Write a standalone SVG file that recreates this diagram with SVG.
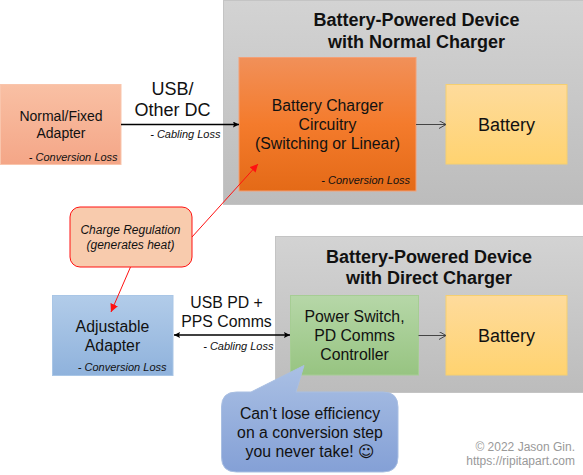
<svg xmlns="http://www.w3.org/2000/svg" width="583" height="475" viewBox="0 0 583 475">
<style>
text{font-family:"Liberation Sans",Arial,sans-serif;fill:#111;text-anchor:middle}
.t{font-size:18px;font-weight:bold}
.n{font-size:14px}
.m{font-size:15.800px}
.b{font-size:18px}
.l{font-size:11px;font-style:italic;text-anchor:end}
.r{font-size:12px;font-style:italic}
.f{font-size:12px;fill:#999;text-anchor:end}
.c{fill:none}
</style>
<defs>
<linearGradient id="gGray" x1="0" y1="0" x2="0" y2="1"><stop offset="0" stop-color="#d3d3d3"/><stop offset="1" stop-color="#bcbcbc"/></linearGradient>
<linearGradient id="gPeach" x1="0" y1="0" x2="0" y2="1"><stop offset="0" stop-color="#f9c0a4"/><stop offset="1" stop-color="#f4a687"/></linearGradient>
<linearGradient id="gOrange" x1="0" y1="0" x2="0" y2="1"><stop offset="0" stop-color="#f19059"/><stop offset="0.5" stop-color="#f47b2c"/><stop offset="1" stop-color="#e46a17"/></linearGradient>
<linearGradient id="gYellow" x1="0" y1="0" x2="0" y2="1"><stop offset="0" stop-color="#fedb9c"/><stop offset="1" stop-color="#ffd370"/></linearGradient>
<linearGradient id="gBlue" x1="0" y1="0" x2="0" y2="1"><stop offset="0" stop-color="#b2cce9"/><stop offset="1" stop-color="#8fb2dc"/></linearGradient>
<linearGradient id="gGreen" x1="0" y1="0" x2="0" y2="1"><stop offset="0" stop-color="#b6d7a8"/><stop offset="1" stop-color="#97c481"/></linearGradient>
<linearGradient id="gBub" gradientUnits="userSpaceOnUse" x1="0" y1="365" x2="0" y2="472"><stop offset="0" stop-color="#aac0e4"/><stop offset="1" stop-color="#84a0d6"/></linearGradient>
<marker id="blk" markerWidth="8" markerHeight="8" refX="6" refY="3" orient="auto-start-reverse" markerUnits="userSpaceOnUse"><path d="M0 0L6 3L0 6L1 3Z" fill="#000"/></marker>
<marker id="red" markerWidth="10" markerHeight="10" refX="8" refY="4" orient="auto" markerUnits="userSpaceOnUse"><path d="M0 0L8 4L0 8Z" fill="#f11"/></marker>
<marker id="open" markerWidth="9" markerHeight="10" refX="7" refY="4" orient="auto" markerUnits="userSpaceOnUse"><path d="M0 0L7 4L0 8" fill="none" stroke="#444" stroke-width="1"/></marker>
</defs>

<g id="device-normal">
<rect x="223.500" y="0.500" width="360" height="204" fill="url(#gGray)" stroke="#c4c4c4"/>
<text class="t" x="416.500" y="26">Battery-Powered Device</text>
<text class="t" x="416.500" y="47.500">with Normal Charger</text>
</g>
<g id="device-direct">
<rect x="275.500" y="236.500" width="308" height="156" fill="url(#gGray)" stroke="#c4c4c4"/>
<text class="t" x="429" y="262.500">Battery-Powered Device</text>
<text class="t" x="429" y="283.500">with Direct Charger</text>
</g>
<g id="adapter-fixed">
<rect x="0.500" y="84.500" width="120.500" height="80" fill="url(#gPeach)" stroke="#f9c5ac"/>
<text class="n" x="61" y="121">Normal/Fixed</text>
<text class="n" x="61" y="138">Adapter</text>
<text class="l" x="117.500" y="161">- Conversion Loss</text>
</g>
<g id="charger">
<rect x="239" y="57.500" width="177" height="133.500" fill="url(#gOrange)" stroke="#f3a077"/>
<text class="m" x="327.500" y="111">Battery Charger</text>
<text class="m" x="327.500" y="130">Circuitry</text>
<text class="m" x="327.500" y="149">(Switching or Linear)</text>
<text class="l" x="410" y="184">- Conversion Loss</text>
</g>
<g id="battery-1">
<rect x="446" y="84.500" width="121" height="79.500" fill="url(#gYellow)" stroke="#f5cf70"/>
<text class="b" x="506.500" y="131">Battery</text>
</g>
<g id="regulation">
<rect x="70" y="207" width="122" height="60" rx="10" fill="#f8cbad" stroke="#f11" stroke-width="1"/>
<text class="r" x="130.500" y="234">Charge Regulation</text>
<text class="r" x="130.500" y="249">(generates heat)</text>
</g>
<g id="adapter-adjustable">
<rect x="52.500" y="295.500" width="120.500" height="80" fill="url(#gBlue)" stroke="#a9c6e6"/>
<text class="m" x="112.500" y="332">Adjustable</text>
<text class="m" x="112.500" y="351">Adapter</text>
<text class="l" x="166.500" y="371">- Conversion Loss</text>
</g>
<g id="switch">
<rect x="290.500" y="295.500" width="128" height="79.500" fill="url(#gGreen)" stroke="#a6cd94"/>
<text class="m" x="354.500" y="322">Power Switch,</text>
<text class="m" x="354.500" y="341">PD Comms</text>
<text class="m" x="354.500" y="360">Controller</text>
</g>
<g id="battery-2">
<rect x="446" y="295.500" width="121" height="79.500" fill="url(#gYellow)" stroke="#f5cf70"/>
<text class="b" x="506.500" y="342">Battery</text>
</g>
<g id="bubble">
<path d="M304 365.500L296 392H383Q398 392 398 407V457Q398 472 383 472H236.500Q221.500 472 221.500 457V407Q221.500 392 236.500 392H251Z" fill="url(#gBub)" stroke="#a9bfe2"/>
<text class="m" x="310" y="419">Can’t lose efficiency</text>
<text class="m" x="310" y="438">on a conversion step</text>
<text class="m" x="310" y="457">you never take! <tspan style="font-family:'DejaVu Sans',sans-serif">☺</tspan></text>
</g>
<g id="connectors">
<path class="c" d="M121 124.500H239" stroke="#000" stroke-width="1.500" marker-end="url(#blk)"/>
<path class="c" d="M416 124.500H446" stroke="#444" stroke-width="1" marker-end="url(#open)"/>
<path class="c" d="M174 335H290" stroke="#000" stroke-width="1.500" marker-start="url(#blk)" marker-end="url(#blk)"/>
<path class="c" d="M418.500 335.500H446" stroke="#444" stroke-width="1" marker-end="url(#open)"/>
<path class="c" d="M192 237L258 164" stroke="#f11" stroke-width="1" marker-end="url(#red)"/>
<path class="c" d="M130.500 267L111 312" stroke="#f11" stroke-width="1" marker-end="url(#red)"/>
</g>
<g id="labels">
<text class="b" x="172.500" y="95">USB/</text>
<text class="b" x="172.500" y="116">Other DC</text>
<text class="l" x="220.500" y="138">- Cabling Loss</text>
<text class="m" x="226.500" y="308">USB PD +</text>
<text class="m" x="226.500" y="327">PPS Comms</text>
<text class="l" x="273.500" y="350">- Cabling Loss</text>
<text class="f" x="575" y="451">© 2022 Jason Gin.</text>
<text class="f" x="575" y="465">https://ripitapart.com</text>
</g>
</svg>
